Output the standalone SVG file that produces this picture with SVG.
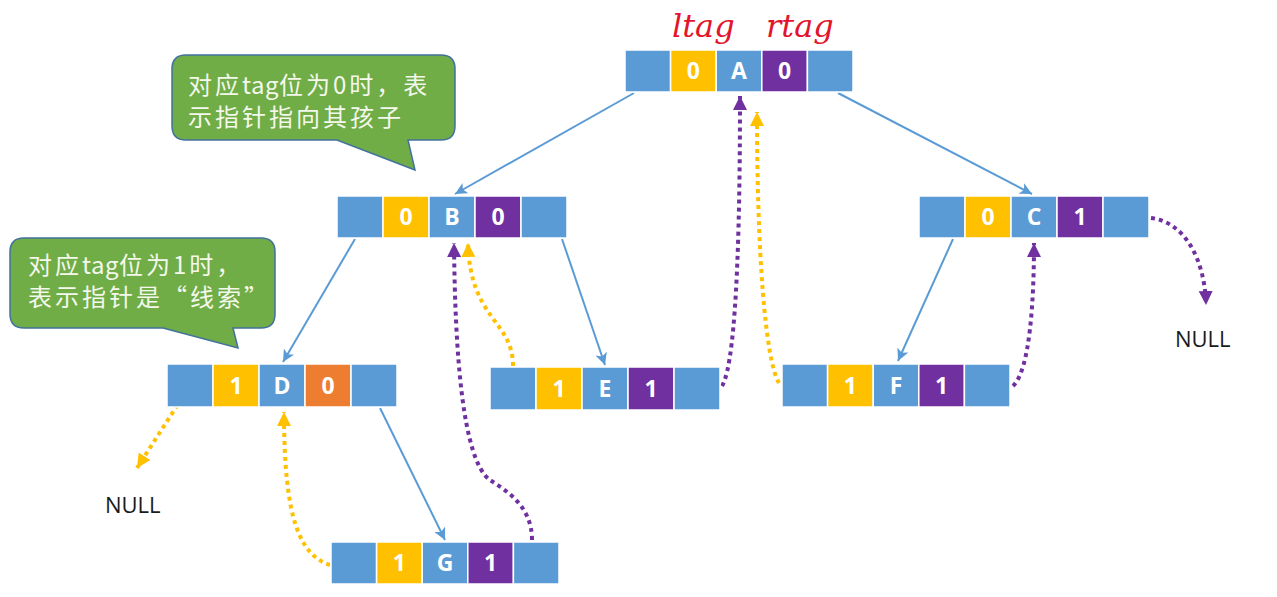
<svg xmlns="http://www.w3.org/2000/svg" width="1277" height="597" viewBox="0 0 1277 597">
<style>
.b{fill:#5B9BD5;stroke:#FFFFFF;stroke-width:1.5}
.y{fill:#FFC000;stroke:#FFFFFF;stroke-width:1.5}
.p{fill:#7030A0;stroke:#FFFFFF;stroke-width:1.5}
.o{fill:#ED7D31;stroke:#FFFFFF;stroke-width:1.5}
.t{font-family:"Open Sans","Liberation Sans",sans-serif;font-weight:bold;font-size:23px;fill:#FFFFFF;text-anchor:middle}
.edge{stroke:#5B9BD5;stroke-width:2;fill:none;marker-end:url(#ab)}
.dp{stroke:#7030A0;stroke-width:4;stroke-dasharray:4 4;fill:none;marker-end:url(#ap)}
.dy{stroke:#FFC000;stroke-width:4;stroke-dasharray:4 4;fill:none;marker-end:url(#ay)}
.call{fill:#70AD47;stroke:#41719C;stroke-width:1.5}
.ct{font-family:"Noto Sans CJK SC","Noto Sans",sans-serif;font-size:24px;letter-spacing:3px;fill:#F4F8EC}
.lat{letter-spacing:0.5px}
.null{font-family:"Open Sans","Liberation Sans",sans-serif;font-size:22px;fill:#1A1A1A}
.hw{font-family:"DejaVu Serif","Liberation Serif",serif;font-style:italic;font-size:32px;fill:#E3142C}
</style>
<defs>
<marker id="ab" markerUnits="userSpaceOnUse" markerWidth="14" markerHeight="14" refX="12" refY="6" orient="auto"><path d="M0,0 L12,6 L0,12 L3,6 Z" fill="#5B9BD5"/></marker>
<marker id="ap" markerUnits="userSpaceOnUse" markerWidth="16" markerHeight="16" refX="14" refY="7" orient="auto"><path d="M0,0 L14,7 L0,14 Z" fill="#7030A0"/></marker>
<marker id="ay" markerUnits="userSpaceOnUse" markerWidth="16" markerHeight="16" refX="14" refY="7" orient="auto"><path d="M0,0 L14,7 L0,14 Z" fill="#FFC000"/></marker>
</defs>

<g id="connectors">
<line class="edge" x1="634" y1="93" x2="455" y2="194"/>
<line class="edge" x1="838" y1="93" x2="1032" y2="194"/>
<line class="edge" x1="355" y1="239" x2="283" y2="362"/>
<line class="edge" x1="562" y1="239" x2="605" y2="365"/>
<line class="edge" x1="953" y1="239" x2="898" y2="361"/>
<line class="edge" x1="380" y1="408" x2="445" y2="540"/>
<path class="dp" d="M722,386 C738,360 740,200 740,96"/>
<path class="dy" d="M779,383 C765,360 757,250 757,112"/>
<path class="dp" d="M1013,386 C1030,370 1034,300 1034,243"/>
<path class="dp" d="M1151,218 C1185,222 1205,260 1206,305"/>
<path class="dy" d="M513,366 C513,320 470,320 468,243"/>
<path class="dp" d="M532,540 C532,505 505,490 490,480 C462,460 455,350 454,243"/>
<path class="dy" d="M330,565 C300,555 284,520 284,412"/>
<path class="dy" d="M182,398 L137,468"/>
</g>

<g id="nodeA">
<rect class="b" x="625" y="50" width="45.6" height="42"/>
<rect class="y" x="670.6" y="50" width="45.6" height="42"/>
<rect class="b" x="716.2" y="50" width="45.6" height="42"/>
<rect class="p" x="761.8" y="50" width="45.6" height="42"/>
<rect class="b" x="807.4" y="50" width="45.6" height="42"/>
<text class="t" x="693.4" y="79">0</text>
<text class="t" x="739" y="79">A</text>
<text class="t" x="784.6" y="79">0</text>
</g>

<g id="nodeB">
<rect class="b" x="337" y="196" width="46" height="42"/>
<rect class="y" x="383" y="196" width="46" height="42"/>
<rect class="b" x="429" y="196" width="46" height="42"/>
<rect class="p" x="475" y="196" width="46" height="42"/>
<rect class="b" x="521" y="196" width="46" height="42"/>
<text class="t" x="406" y="225">0</text>
<text class="t" x="452" y="225">B</text>
<text class="t" x="498" y="225">0</text>
</g>

<g id="nodeC">
<rect class="b" x="919" y="196" width="46" height="42"/>
<rect class="y" x="965" y="196" width="46" height="42"/>
<rect class="b" x="1011" y="196" width="46" height="42"/>
<rect class="p" x="1057" y="196" width="46" height="42"/>
<rect class="b" x="1103" y="196" width="46" height="42"/>
<text class="t" x="988" y="225">0</text>
<text class="t" x="1034" y="225">C</text>
<text class="t" x="1080" y="225">1</text>
</g>

<g id="nodeD">
<rect class="b" x="167" y="364" width="46" height="43"/>
<rect class="y" x="213" y="364" width="46" height="43"/>
<rect class="b" x="259" y="364" width="46" height="43"/>
<rect class="o" x="305" y="364" width="46" height="43"/>
<rect class="b" x="351" y="364" width="46" height="43"/>
<text class="t" x="236" y="394">1</text>
<text class="t" x="282" y="394">D</text>
<text class="t" x="328" y="394">0</text>
</g>

<g id="nodeE">
<rect class="b" x="490" y="367" width="46" height="43"/>
<rect class="y" x="536" y="367" width="46" height="43"/>
<rect class="b" x="582" y="367" width="46" height="43"/>
<rect class="p" x="628" y="367" width="46" height="43"/>
<rect class="b" x="674" y="367" width="46" height="43"/>
<text class="t" x="559" y="397">1</text>
<text class="t" x="605" y="397">E</text>
<text class="t" x="651" y="397">1</text>
</g>

<g id="nodeF">
<rect class="b" x="782" y="364" width="45.6" height="43"/>
<rect class="y" x="827.6" y="364" width="45.6" height="43"/>
<rect class="b" x="873.2" y="364" width="45.6" height="43"/>
<rect class="p" x="918.8" y="364" width="45.6" height="43"/>
<rect class="b" x="964.4" y="364" width="45.6" height="43"/>
<text class="t" x="850.4" y="394">1</text>
<text class="t" x="896" y="394">F</text>
<text class="t" x="941.6" y="394">1</text>
</g>

<g id="nodeG">
<rect class="b" x="331" y="542" width="45.6" height="42"/>
<rect class="y" x="376.6" y="542" width="45.6" height="42"/>
<rect class="b" x="422.2" y="542" width="45.6" height="42"/>
<rect class="p" x="467.8" y="542" width="45.6" height="42"/>
<rect class="b" x="513.4" y="542" width="45.6" height="42"/>
<text class="t" x="399.4" y="571">1</text>
<text class="t" x="445" y="571">G</text>
<text class="t" x="490.6" y="571">1</text>
</g>

<g id="callout0">
<path class="call" d="M186,55 H441 Q455,55 455,69 V126 Q455,140 441,140 H408 L415,170 L337,140 H186 Q172,140 172,126 V69 Q172,55 186,55 Z"/>
<text class="ct" x="188" y="94">对应<tspan class="lat">tag</tspan>位为0时，表</text>
<text class="ct" x="188" y="126">示指针指向其孩子</text>
</g>

<g id="callout1">
<path class="call" d="M24,238 H261 Q275,238 275,252 V314 Q275,328 261,328 H233 L238,348 L163,328 H24 Q10,328 10,314 V252 Q10,238 24,238 Z"/>
<text class="ct" x="28" y="274">对应<tspan class="lat">tag</tspan>位为1时，</text>
<text class="ct" x="28" y="306">表示指针是“线索”</text>
</g>

<g id="null1"><text class="null" x="105" y="513">NULL</text></g>
<g id="null2"><text class="null" x="1175" y="347">NULL</text></g>

<g id="labels">
<text class="hw" x="672" y="37">ltag</text>
<text class="hw" x="766" y="37">rtag</text>
</g>
</svg>
